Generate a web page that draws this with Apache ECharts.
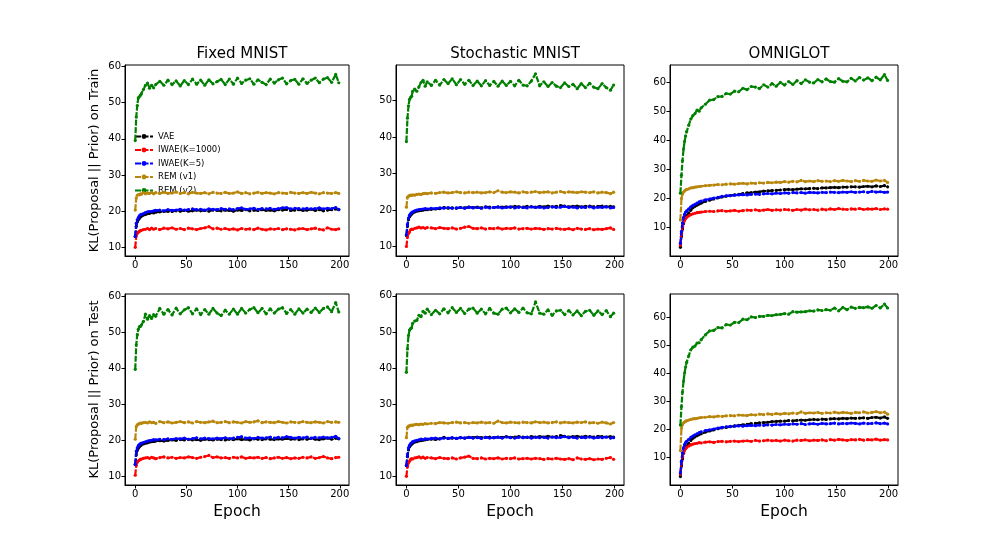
<!DOCTYPE html>
<html>
<head>
<meta charset="utf-8">
<script src="https://cdn.jsdelivr.net/npm/echarts@6/dist/echarts.min.js"></script>
<style>
  html, body { margin: 0; padding: 0; background: #fff; }
  #main { width: 997px; height: 545px; }
</style>
</head>
<body>
<div id="main"></div>
<script>
var epochs = [0,1,2,3,4,5,6,8,10,12,14,16,18,20,24,28,32,36,40,44,48,52,56,60,64,68,72,76,80,84,88,92,96,100,104,108,112,116,120,124,128,132,136,140,144,148,152,156,160,164,168,172,176,180,184,188,192,196,199];
var xTicks = [0, 50, 100, 150, 200];
var yTicks = [10, 20, 30, 40, 50, 60];
var seriesNames = ['VAE', 'IWAE(K=1000)', 'IWAE(K=5)', 'REM (v1)', 'REM (v2)'];
var panelTitles = ['Fixed MNIST', 'Stochastic MNIST', 'OMNIGLOT'];
var rowLabels = ['KL(Proposal || Prior) on Train', 'KL(Proposal || Prior) on Test'];

// Fixed MNIST, train
var fmTrainVae = [13.0,15.8,17.0,17.6,18.0,18.4,18.6,18.9,19.1,19.3, 19.4,19.6,19.5,19.7,19.8,19.9,20.0,19.9,20.1,20.0, 20.2,20.0,20.1,20.3,20.1,20.2,20.0,20.3,20.2,20.1, 20.3,20.2,20.0,20.3,20.2,20.4,20.1,20.3,20.2,20.4, 20.2,20.3,20.1,20.4,20.3,20.5,20.2,20.3,20.4,20.2, 20.3,20.5,20.2,20.4,20.1,20.3,20.4,20.6,20.4];
var fmTrainIwae1000 = [10.0,13.1,13.8,14.2,14.4,14.6,14.7,14.9,15.0,15.2, 14.9,15.3,15.0,15.2,14.9,15.3,15.1,15.4,15.0,15.2, 14.9,15.3,15.1,14.9,15.2,15.4,15.7,15.1,15.3,15.0, 15.2,14.9,15.1,14.8,15.2,15.0,15.1,14.9,15.3,15.0, 14.8,15.1,15.0,15.2,14.9,15.1,15.0,14.8,15.1,15.2, 14.9,15.1,15.3,15.0,14.8,15.4,15.0,14.9,15.1];
var fmTrainIwae5 = [13.0,16.6,17.6,18.2,18.7,19.0,19.1,19.3,19.6,19.8, 19.9,19.9,20.1,20.2,20.3,20.1,20.4,20.2,20.3,20.5, 20.3,20.4,20.6,20.4,20.5,20.3,20.6,20.5,20.4,20.7, 20.5,20.6,20.4,20.7,20.9,20.5,20.6,20.8,20.5,20.7, 20.6,20.8,20.5,20.7,20.9,21.0,20.6,20.8,20.7,20.6, 20.8,20.6,20.7,20.9,20.6,20.8,20.7,21.0,20.5];
var fmTrainRem1 = [20.3,23.6,24.4,24.6,24.5,24.8,24.7,25.1,24.8,25.0, 24.9,25.2,24.8,25.1,24.9,25.2,24.9,25.0,25.3,24.9, 25.1,24.8,25.2,25.0,24.9,25.1,24.8,25.2,25.0,24.9, 25.2,24.9,25.0,25.3,24.9,25.1,24.8,25.0,25.2,24.9, 25.1,25.0,24.8,25.1,25.0,24.9,25.2,25.0,24.9,25.1, 24.9,25.2,25.0,24.8,25.1,25.0,24.9,25.1,24.9];
var fmTrainRem2 = [39.5,46.0,49.2,51.3,51.6,52.0,52.4,53.6,54.8,55.4, 54.0,54.8,54.1,55.0,55.9,54.8,56.2,55.0,56.0,54.6, 56.1,55.0,56.5,55.1,56.2,54.8,56.3,55.2,55.8,56.4, 55.0,56.5,55.1,56.8,55.3,56.2,56.6,55.1,56.3,55.6, 55.0,56.5,55.4,56.3,56.8,55.2,56.1,56.4,55.1,56.6, 55.3,56.2,56.8,55.5,56.5,56.9,55.6,57.8,55.5];

// Stochastic MNIST, train
var smTrainVae = [13.0,15.6,17.4,18.2,18.6,18.9,19.2,19.5,19.7,19.8, 19.9,20.0,20.1,20.1,20.2,20.3,20.4,20.7,20.5,20.6, 20.5,20.7,20.6,20.8,20.7,20.8,20.6,20.9,20.8,20.7, 20.9,20.8,20.9,20.8,21.0,20.9,20.8,21.0,20.9,20.8, 21.0,20.9,21.1,20.9,21.0,21.2,21.1,20.9,21.0,21.1, 20.9,21.0,21.1,20.9,21.0,21.1,20.9,21.0,20.9];
var smTrainIwae1000 = [10.0,12.6,13.6,14.0,14.6,14.8,14.7,15.0,15.1,15.3, 15.1,15.2,15.0,15.2,15.1,14.9,15.2,15.0,14.9,15.1, 14.8,15.0,15.3,15.5,15.0,14.9,15.1,14.8,15.0,14.9, 15.1,14.8,15.0,14.9,15.1,14.8,14.9,15.0,14.8,15.0, 14.9,14.7,14.9,14.8,15.0,14.8,14.7,14.9,14.6,15.0, 14.8,14.7,14.9,14.6,14.8,14.7,14.9,15.1,14.7];
var smTrainIwae5 = [13.2,16.0,17.8,18.6,19.0,19.3,19.5,19.8,20.0,20.1, 20.2,20.3,20.4,20.3,20.5,20.4,20.6,20.5,20.7,20.5, 20.6,20.7,20.5,20.8,20.6,20.7,20.5,20.8,20.6,20.7, 20.8,20.6,20.7,20.9,20.6,20.8,20.7,20.6,20.9,20.7, 20.8,20.6,20.7,20.9,20.7,20.8,21.0,20.7,20.8,20.6, 20.8,20.7,20.9,20.6,20.8,20.7,20.9,20.6,20.7];
var smTrainRem1 = [20.8,23.5,23.8,24.0,24.1,24.0,24.2,24.1,24.3,24.4, 24.3,24.5,24.6,24.5,24.7,24.6,24.8,24.9,24.7,24.8, 25.0,24.8,24.7,24.9,24.8,24.9,24.7,24.8,25.0,24.8, 25.3,24.9,24.8,25.0,24.9,24.7,25.0,24.8,24.9,25.1, 24.8,24.9,25.0,24.7,24.9,25.1,24.8,25.0,24.9,24.8, 25.0,24.9,24.8,25.0,24.7,24.9,24.8,24.5,24.9];
var smTrainRem2 = [38.8,45.2,48.6,50.4,50.9,51.2,52.6,53.2,52.6,53.8, 55.0,55.6,54.0,55.2,54.2,55.6,54.3,55.8,54.7,56.0, 54.4,55.8,54.5,55.6,54.2,55.4,54.1,55.5,54.2,55.3, 54.0,55.4,54.2,55.3,54.1,55.6,54.3,54.1,55.4,57.4, 54.1,55.2,53.9,55.0,54.0,53.6,54.9,53.9,54.5,53.3, 54.7,53.6,54.8,53.7,53.3,54.7,53.6,52.9,54.3];

// OMNIGLOT, train
var omTrainVae = [3.2,7.0,9.5,11.4,12.6,13.3,14.0,15.0,16.0,16.8, 17.3,17.7,18.1,18.4,19.0,19.4,19.8,20.2,20.5,20.8, 21.0,21.2,21.4,21.7,21.9,22.0,22.2,22.3,22.5,22.6, 22.7,22.8,22.9,23.0,23.1,23.0,23.2,23.3,23.3,23.4, 23.5,23.4,23.6,23.6,23.7,23.8,23.7,23.9,23.9,24.0, 24.0,23.9,24.1,24.2,24.0,24.3,24.1,24.4,24.0];
var omTrainIwae1000 = [4.0,8.0,10.4,11.8,12.6,13.1,13.5,14.0,14.4,14.7, 14.9,15.1,15.2,15.3,15.5,15.6,15.5,15.7,15.8,15.6, 15.7,15.9,15.6,15.8,16.0,15.9,16.1,15.8,16.0,16.2, 15.9,16.1,16.0,16.2,16.1,15.9,16.2,16.0,16.3,16.1, 16.2,16.0,16.3,16.1,16.4,16.2,16.5,16.3,16.2,16.4, 16.3,16.5,16.2,16.4,16.3,16.5,16.2,16.4,16.3];
var omTrainIwae5 = [4.6,8.6,11.6,13.4,14.6,15.3,15.7,16.4,17.1,17.6, 18.0,18.4,18.8,19.1,19.5,19.8,20.1,20.4,20.7,20.9, 21.0,21.1,21.2,21.3,21.2,21.4,21.5,21.4,21.6,21.7, 21.6,21.8,21.7,21.9,21.8,22.0,21.9,22.0,21.8,22.1, 22.0,21.9,22.1,22.0,22.2,22.1,22.0,22.2,22.1,22.3, 22.1,22.2,22.3,22.1,22.4,22.2,22.3,22.1,22.2];
var omTrainRem1 = [12.6,20.0,21.5,22.2,22.6,22.9,23.1,23.3,23.6,23.7, 23.9,24.0,24.1,24.2,24.4,24.5,24.6,24.8,24.7,24.9, 25.0,24.9,25.1,25.2,25.0,25.3,25.2,25.4,25.3,25.5, 25.4,25.6,25.5,25.8,25.6,25.9,25.7,26.2,25.8,26.0, 25.8,26.1,25.9,26.0,25.8,26.1,25.9,26.2,26.0,25.8, 26.1,25.9,26.2,26.0,25.9,26.3,26.0,26.2,25.5];
var omTrainRem2 = [21.8,28.0,33.0,37.0,39.6,41.5,43.0,45.2,47.3,48.5, 49.2,50.4,50.0,51.2,52.4,53.8,54.0,55.0,55.1,56.1, 55.9,56.9,56.7,57.9,57.4,58.5,58.3,57.8,59.1,58.3, 59.5,58.6,59.9,59.0,60.2,59.2,60.5,59.5,60.8,60.0, 59.7,60.9,60.1,61.1,60.2,60.0,61.2,60.3,60.1,61.3, 60.4,61.6,60.7,61.5,60.5,61.7,60.8,62.6,60.6];

// Fixed MNIST, test
var fmTestVae = [13.3,16.0,17.2,17.8,18.2,18.5,18.7,19.0,19.2,19.3, 19.5,19.6,19.7,19.8,19.9,19.8,20.0,20.1,20.0,20.2, 20.1,20.3,20.1,20.2,20.0,20.3,20.2,20.1,20.3,20.2, 20.1,20.3,20.2,20.4,20.2,20.3,20.1,20.4,20.3,20.2, 20.4,20.3,20.2,20.4,20.3,20.5,20.3,20.4,20.2,20.4, 20.3,20.5,20.3,20.2,20.4,20.6,20.3,20.6,20.4];
var fmTestIwae1000 = [10.3,13.1,13.9,14.3,14.5,14.7,14.8,15.0,15.1,15.2, 15.0,15.3,15.1,14.9,15.2,15.4,15.1,15.3,15.0,15.2, 15.1,15.4,15.2,15.0,15.3,15.5,15.8,15.2,15.4,15.1, 15.2,15.0,15.3,15.1,15.4,15.0,15.2,15.1,15.3,15.0, 15.2,14.9,15.1,15.3,15.0,15.2,14.9,15.1,15.0,15.3, 15.1,15.4,15.0,15.2,15.5,15.1,14.9,15.2,15.3];
var fmTestIwae5 = [13.3,17.0,17.9,18.5,18.8,19.1,19.2,19.4,19.6,19.8, 19.9,20.0,20.2,20.1,20.3,20.2,20.4,20.3,20.5,20.4, 20.6,20.3,20.5,20.7,20.4,20.6,20.5,20.4,20.6,20.5, 20.7,20.5,20.6,20.8,21.0,20.6,20.7,20.5,20.8,20.6, 20.7,20.9,20.6,20.8,20.7,21.0,20.8,20.6,20.8,20.7, 20.9,20.6,20.8,20.7,20.9,20.7,20.8,21.1,20.5];
var fmTestRem1 = [20.3,23.8,24.3,24.5,24.6,24.8,24.7,24.9,25.0,24.8, 25.1,24.9,25.0,24.7,25.2,24.9,25.1,24.8,25.0,25.2, 24.9,25.1,24.8,25.2,25.0,24.9,25.1,25.3,24.9,25.0, 25.2,24.9,25.1,25.0,24.8,25.2,25.0,25.1,25.4,24.9, 25.1,25.0,24.9,25.2,25.0,24.8,25.1,25.0,24.9,25.2, 25.0,24.9,25.1,25.0,24.8,25.2,25.0,25.1,25.0];
var fmTestRem2 = [39.7,46.5,49.3,50.8,51.5,51.6,52.0,53.0,55.0,53.6, 54.6,53.8,54.9,54.4,56.6,55.0,56.3,54.8,56.7,55.1, 56.2,56.8,55.1,56.5,54.9,56.3,55.0,56.6,55.3,54.6, 56.1,55.0,56.4,55.0,56.6,55.3,56.3,56.8,55.4,56.6, 55.1,56.5,55.3,56.4,56.8,55.2,56.3,55.0,56.5,55.3, 56.4,55.5,56.7,55.5,56.6,57.0,55.7,58.2,55.6];

// Stochastic MNIST, test
var smTestVae = [13.0,15.5,17.3,18.2,18.6,18.9,19.2,19.5,19.6,19.8, 19.9,20.0,20.1,20.2,20.3,20.2,20.4,20.8,20.5,20.6, 20.5,20.7,20.6,20.8,20.7,20.9,20.7,20.8,20.9,20.7, 20.9,20.8,21.0,20.8,20.9,21.0,20.9,20.8,21.0,20.9, 21.0,20.9,21.1,20.9,21.0,21.3,21.1,20.9,21.0,21.1, 20.9,21.1,21.0,20.9,21.1,21.0,20.9,21.0,20.9];
var smTestIwae1000 = [10.0,12.7,13.7,14.2,14.7,14.9,14.8,15.1,15.2,15.4, 15.1,15.3,15.0,15.2,15.1,14.9,15.2,15.0,14.9,15.1, 14.8,15.1,15.3,15.6,15.0,14.9,15.1,14.8,15.0,14.9, 15.1,14.8,15.0,14.9,15.1,14.8,14.9,15.0,14.8,15.0, 14.9,14.7,14.9,14.8,15.0,14.8,14.7,14.9,14.6,15.1, 14.8,14.7,14.9,14.6,14.8,14.7,15.0,15.2,14.7];
var smTestIwae5 = [13.0,16.0,17.9,18.6,19.1,19.3,19.6,19.8,20.0,20.1, 20.3,20.2,20.4,20.3,20.5,20.6,20.4,20.6,20.5,20.7, 20.5,20.7,20.6,20.8,20.6,20.7,20.5,20.8,20.6,20.7, 20.8,20.6,20.9,20.7,20.6,20.8,20.7,20.9,20.6,20.8, 20.7,20.8,20.6,20.9,20.7,20.8,21.0,20.7,20.8,20.6, 20.8,20.7,20.9,20.6,20.8,20.7,20.9,20.6,20.7];
var smTestRem1 = [20.7,23.6,23.9,24.0,24.1,24.2,24.1,24.3,24.4,24.3, 24.5,24.4,24.6,24.5,24.7,24.6,24.9,24.8,24.7,24.9, 25.0,24.8,24.9,24.7,24.9,24.8,25.0,24.8,24.9,24.7, 25.3,24.9,24.8,25.0,24.9,24.8,25.0,24.9,24.8,25.1, 24.9,25.0,24.8,24.9,25.1,24.8,25.0,24.9,24.8,25.0, 24.9,25.1,24.8,24.9,24.7,25.0,24.8,24.5,24.9];
var smTestRem2 = [38.8,45.3,49.0,50.5,50.9,51.1,52.4,53.0,53.2,54.6, 54.2,55.7,55.2,56.3,54.8,56.0,55.0,56.4,55.3,56.7, 55.4,56.5,55.1,56.3,56.6,55.2,56.3,55.0,56.5,55.2, 54.9,56.3,56.6,55.3,56.4,55.4,56.6,55.3,55.0,58.3, 55.2,54.9,56.1,54.6,55.8,56.0,54.8,55.9,54.7,55.8, 54.5,55.7,56.0,54.6,55.8,54.8,55.9,54.2,55.2];

// OMNIGLOT, test
var omTestVae = [3.2,7.1,9.6,11.5,12.7,13.4,14.1,15.1,16.1,16.9, 17.4,17.8,18.2,18.5,19.1,19.5,19.9,20.3,20.6,20.8, 21.0,21.3,21.5,21.7,21.9,22.1,22.2,22.4,22.5,22.6, 22.8,22.9,23.0,23.0,23.2,23.1,23.3,23.4,23.3,23.5, 23.6,23.5,23.7,23.6,23.8,23.9,23.8,24.0,23.9,24.1, 24.0,24.1,24.2,24.0,24.3,24.4,24.1,24.5,24.0];
var omTestIwae1000 = [4.1,8.2,10.5,11.9,12.7,13.2,13.6,14.1,14.5,14.8, 15.0,15.1,15.3,15.2,15.5,15.6,15.4,15.7,15.8,15.6, 15.8,15.9,15.7,15.9,16.0,15.8,16.1,15.9,16.0,16.2, 16.0,16.1,15.9,16.2,16.0,15.9,16.2,16.1,16.3,16.0, 16.2,16.1,16.3,16.0,16.4,16.2,16.5,16.3,16.1,16.4, 16.3,16.5,16.2,16.4,16.3,16.6,16.2,16.4,16.3];
var omTestIwae5 = [4.5,8.7,11.7,13.5,14.7,15.4,15.8,16.5,17.2,17.7, 18.1,18.5,18.9,19.2,19.6,19.9,20.2,20.5,20.8,21.0, 21.1,21.2,21.3,21.2,21.4,21.5,21.4,21.6,21.5,21.7, 21.6,21.8,21.7,21.9,21.8,22.0,21.9,22.1,21.8,22.0, 22.1,21.9,22.2,22.0,22.1,22.3,22.0,22.2,22.1,22.3, 22.2,22.0,22.3,22.1,22.2,22.4,22.1,22.3,22.0];
var omTestRem1 = [12.5,20.4,21.8,22.4,22.7,23.0,23.1,23.4,23.6,23.8, 23.9,24.0,24.2,24.3,24.4,24.6,24.5,24.8,24.7,24.9, 25.0,24.9,25.2,25.1,25.0,25.3,25.2,25.5,25.3,25.6, 25.4,25.7,25.5,25.8,25.6,25.9,25.7,26.3,25.8,26.0, 25.9,26.1,25.8,26.0,25.9,26.2,25.9,26.1,26.0,25.8, 26.1,26.0,26.3,25.9,26.1,26.4,26.0,26.2,25.5];
var omTestRem2 = [21.6,28.2,33.4,37.3,40.2,42.4,44.0,46.3,48.5,49.4, 49.8,50.9,51.0,52.1,53.8,55.2,55.4,56.4,56.3,57.5, 57.3,58.3,58.2,59.4,59.2,60.2,60.0,60.4,60.4,60.8, 60.7,61.0,61.1,61.4,61.2,62.1,61.9,62.0,62.1,62.4, 62.3,62.7,62.5,62.8,62.6,63.4,62.4,63.6,62.8,63.7, 63.3,63.6,63.5,63.8,63.3,64.3,63.4,64.8,63.4];

var lineColors = ['#000000', '#ff0000', '#0000ff', '#b8860b', '#008000'];

var panels = [
  { row: 0, col: 0, yMin: 7.6, yMax: 60.4, lines: [fmTrainVae, fmTrainIwae1000, fmTrainIwae5, fmTrainRem1, fmTrainRem2] },
  { row: 0, col: 1, yMin: 7.4, yMax: 59.8, lines: [smTrainVae, smTrainIwae1000, smTrainIwae5, smTrainRem1, smTrainRem2] },
  { row: 0, col: 2, yMin: 0.2, yMax: 65.9, lines: [omTrainVae, omTrainIwae1000, omTrainIwae5, omTrainRem1, omTrainRem2] },
  { row: 1, col: 0, yMin: 7.6, yMax: 60.6, lines: [fmTestVae, fmTestIwae1000, fmTestIwae5, fmTestRem1, fmTestRem2] },
  { row: 1, col: 1, yMin: 7.6, yMax: 60.5, lines: [smTestVae, smTestIwae1000, smTestIwae5, smTestRem1, smTestRem2] },
  { row: 1, col: 2, yMin: 0.2, yMax: 68.4, lines: [omTestVae, omTestIwae1000, omTestIwae5, omTestRem1, omTestRem2] }
];

var colLeft = [125, 396, 670];
var colWidth = [224, 228, 228];
var rowTop = [65, 294];
var rowHeight = 191;
var font = 'DejaVu Sans';

var grids = [], xAxes = [], yAxes = [], series = [], titles = [];

panelTitles.forEach(function (t, c) {
  titles.push({
    text: t,
    left: colLeft[c] + colWidth[c] / 2,
    top: 42,
    textAlign: 'center',
    textStyle: { fontFamily: font, fontSize: 15, fontWeight: 'normal', color: '#000' }
  });
});

panels.forEach(function (p, i) {
  grids.push({
    left: colLeft[p.col], top: rowTop[p.row], width: colWidth[p.col], height: rowHeight,
    show: true, borderColor: '#000', borderWidth: 1, backgroundColor: 'transparent'
  });
  xAxes.push({
    type: 'value', gridIndex: i, min: -10, max: 209,
    name: p.row === 1 ? 'Epoch' : '',
    nameLocation: 'middle', nameGap: 19,
    nameTextStyle: { fontFamily: font, fontSize: 15.5, color: '#000' },
    axisLine: { show: true, onZero: false, lineStyle: { color: '#000', width: 1 } },
    axisTick: { show: true, length: 3.5, lineStyle: { color: '#000' }, customValues: xTicks },
    axisLabel: { fontFamily: font, fontSize: 10, color: '#000', margin: 4, customValues: xTicks },
    splitLine: { show: false }
  });
  var yt = yTicks.filter(function (v) { return v >= p.yMin && v <= p.yMax; });
  yAxes.push({
    type: 'value', gridIndex: i, min: p.yMin, max: p.yMax,
    name: p.col === 0 ? rowLabels[p.row] : '',
    nameLocation: 'middle', nameGap: 24,
    nameTextStyle: { fontFamily: font, fontSize: 13, color: '#000' },
    axisLine: { show: true, onZero: false, lineStyle: { color: '#000', width: 1 } },
    axisTick: { show: true, length: 3.5, lineStyle: { color: '#000' }, customValues: yt },
    axisLabel: { fontFamily: font, fontSize: 10, color: '#000', margin: 4, customValues: yt },
    splitLine: { show: false }
  });
  p.lines.forEach(function (vals, k) {
    series.push({
      name: seriesNames[k],
      type: 'line',
      xAxisIndex: i, yAxisIndex: i,
      data: epochs.map(function (e, j) { return [e, vals[j]]; }),
      symbol: 'circle', symbolSize: 3.2, showSymbol: true,
      itemStyle: { color: lineColors[k] },
      lineStyle: { color: lineColors[k], width: 2.2, type: [6, 1.5] },
      emphasis: { disabled: true },
      z: 2 + k
    });
  });
});

var myChart = echarts.init(document.getElementById('main'));
myChart.setOption({
  animation: false,
  backgroundColor: '#fff',
  title: titles,
  legend: {
    orient: 'vertical', left: 129, top: 127,
    itemWidth: 18, itemHeight: 6, itemGap: 4.5,
    data: seriesNames,
    textStyle: { fontFamily: font, fontSize: 8.5, color: '#000' }
  },
  grid: grids,
  xAxis: xAxes,
  yAxis: yAxes,
  series: series
});
</script>
</body>
</html>
